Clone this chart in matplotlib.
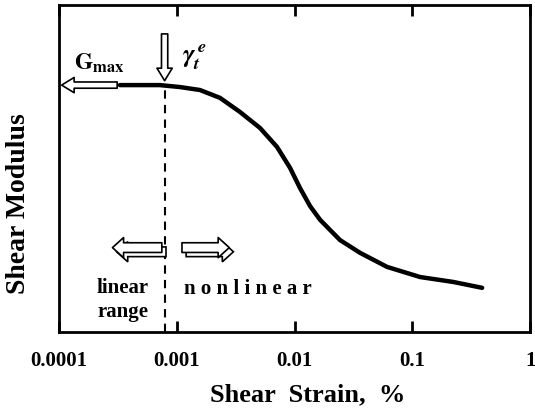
import numpy as np
import matplotlib
matplotlib.use("Agg")
import matplotlib.pyplot as plt
import matplotlib.patheffects as pe
from matplotlib.ticker import FixedLocator, FixedFormatter, NullLocator

plt.rcParams['font.family'] = ['Liberation Serif', 'DejaVu Serif']
plt.rcParams['font.weight'] = 'bold'
plt.rcParams['mathtext.fontset'] = 'stix'

# curve (strain in %, modulus normalised to axis height)
strain = [3.30e-4, 7.21e-4, 1.067e-3, 1.575e-3, 2.33e-3, 3.44e-3, 5.09e-3,
          7.10e-3, 9.16e-3, 0.01114, 0.01355, 0.01648, 0.02434, 0.0360,
          0.0610, 0.1164, 0.222, 0.391]
modulus = [0.755, 0.755, 0.749, 0.740, 0.716, 0.673, 0.624,
           0.566, 0.502, 0.440, 0.385, 0.343, 0.281, 0.242,
           0.199, 0.168, 0.153, 0.135]

tick_vals = [1e-4, 1e-3, 1e-2, 1e-1, 1]
tick_labels = ['0.0001', '0.001', '0.01', '0.1', '1']

gamma_t = 7.9e-4
g_max = 0.755

fig = plt.figure(figsize=(5.35, 4.16), dpi=100)
ax = fig.add_axes([0.110, 0.202, 0.881, 0.786])

ax.plot(strain, modulus, color='black', lw=3.2, solid_capstyle='round',
        solid_joinstyle='round')
ax.plot([gamma_t, gamma_t], [0, g_max], color='black', lw=1.5, ls=(0, (4, 3)))

ax.set_xscale('log')
ax.set_xlim(1e-4, 1)
ax.set_ylim(0, 1)

ax.xaxis.set_major_locator(FixedLocator(tick_vals))
ax.xaxis.set_major_formatter(FixedFormatter(tick_labels))
ax.xaxis.set_minor_locator(NullLocator())
ax.yaxis.set_major_locator(NullLocator())
ax.tick_params(axis='x', direction='in', length=8, width=2, top=True,
               labelsize=15, pad=14)
for s in ax.spines.values():
    s.set_linewidth(2)

ax.set_xlabel('Shear  Strain,  %', fontsize=19, fontweight='bold')
ax.xaxis.set_label_coords(0.527, -0.193)
ax.xaxis.label.set_va('center')
ax.set_ylabel('Shear Modulus', fontsize=20, fontweight='bold')
ax.yaxis.set_label_coords(-0.085, 0.394)
ax.yaxis.label.set_va('center')

hollow = dict(arrowstyle='simple,head_length=0.9,head_width=1.1,tail_width=0.45',
              facecolor='white', edgecolor='black', lw=1.2)

# Gmax arrow pointing to the axis
ax.annotate('', xy=(1.0e-4, g_max), xytext=(3.3e-4, g_max), arrowprops=hollow)
# down arrow at threshold strain
ax.annotate('', xy=(gamma_t, g_max + 0.005), xytext=(gamma_t, 0.92), arrowprops=hollow)

ax.text(2.2e-4, 0.823, r'$\mathbf{G}_{\mathbf{max}}$', fontsize=17,
        ha='center', va='center')
ax.text(1.1e-3, 0.84, r'$\gamma_t^{\,e}$', fontsize=19, ha='left', va='center')

# block arrows for the two ranges, with a drawn side face
block = dict(arrowstyle='simple,head_length=0.8,head_width=1.45,tail_width=0.7',
             facecolor='white', edgecolor='black', lw=1.2)
side = [pe.PathPatchEffect(offset=(3, -3), facecolor='white', edgecolor='black', lw=1.2),
        pe.Normal()]
a1 = ax.annotate('', xy=(2.7e-4, 0.258), xytext=(7.9e-4, 0.258), arrowprops=block)
a2 = ax.annotate('', xy=(2.95e-3, 0.258), xytext=(1.05e-3, 0.258), arrowprops=block)
a1.arrow_patch.set_path_effects(side)
a2.arrow_patch.set_path_effects(side)

ax.text(3.5e-4, 0.135, 'linear', fontsize=15, ha='center', va='center')
ax.text(3.5e-4, 0.062, 'range', fontsize=15, ha='center', va='center')
ax.text(1.15e-3, 0.13, 'n o n l i n e a r', fontsize=15, ha='left', va='center')

fig.savefig('out.png', dpi=100)
